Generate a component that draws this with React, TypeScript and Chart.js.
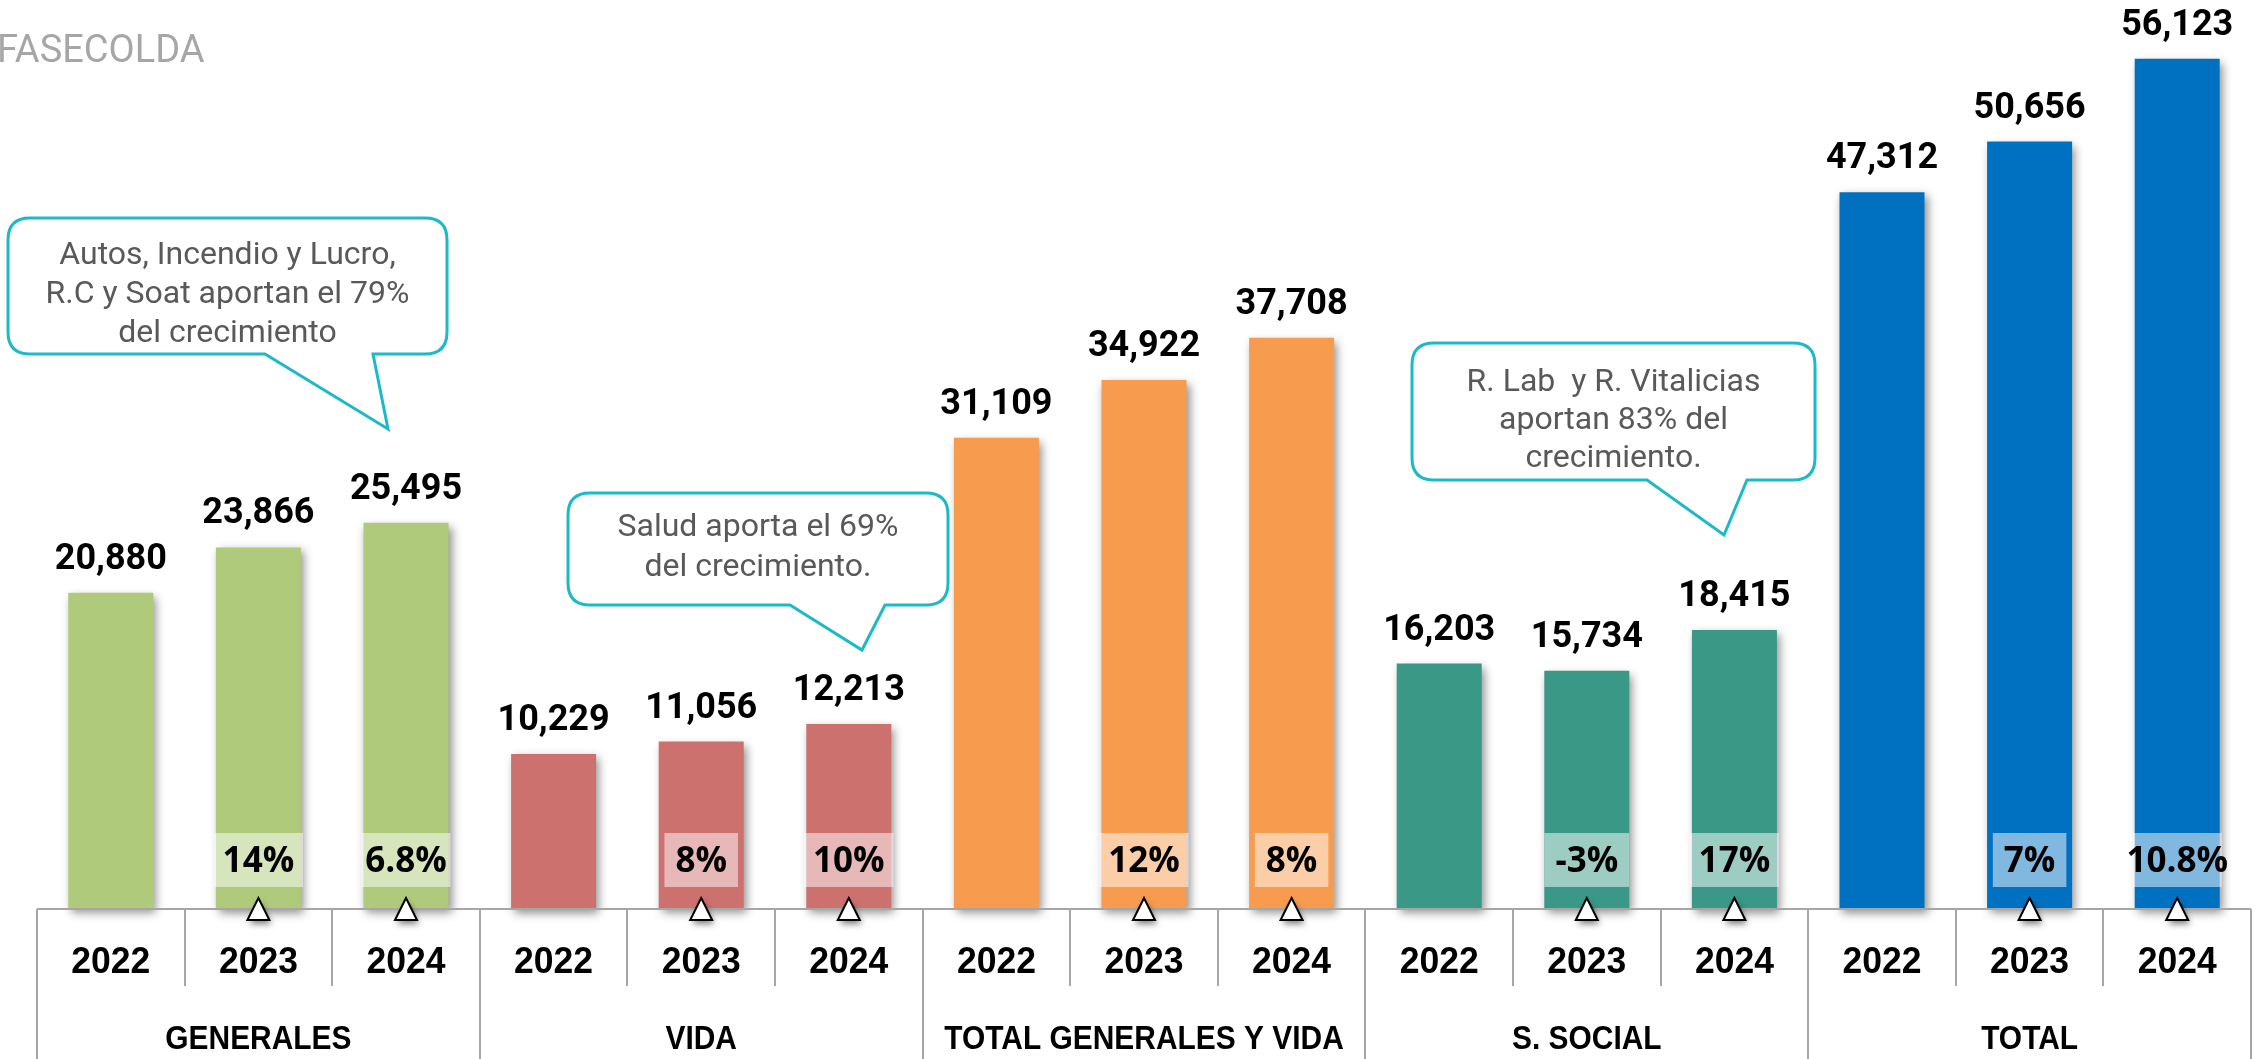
import React, { useEffect, useRef } from "react";
import { Chart, registerables } from "chart.js";

Chart.register(...registerables);

const groups = ["GENERALES", "VIDA", "TOTAL GENERALES Y VIDA", "S. SOCIAL", "TOTAL"];
const years = ["2022", "2023", "2024"];
const generales = [20880, 23866, 25495];
const vida = [10229, 11056, 12213];
const totalGenVida = [31109, 34922, 37708];
const sSocial = [16203, 15734, 18415];
const total = [47312, 50656, 56123];
const growthGenerales = ["", "14%", "6.8%"];
const growthVida = ["", "8%", "10%"];
const growthTotalGenVida = ["", "12%", "8%"];
const growthSSocial = ["", "-3%", "17%"];
const growthTotal = ["", "7%", "10.8%"];
const groupColors = ["#AFCA7B", "#CD716F", "#F79C4F", "#3A9887", "#0070C0"];
const callout1 = ["Autos, Incendio y Lucro,", "R.C y Soat aportan el 79%", "del crecimiento"];
const callout2 = ["Salud aporta el 69%", "del crecimiento."];
const callout3 = ["R. Lab  y R. Vitalicias", "aportan 83% del", "crecimiento."];
const sourceLabel = "FASECOLDA";

const seriesByGroup = [generales, vida, totalGenVida, sSocial, total];
const growthByGroup = [growthGenerales, growthVida, growthTotalGenVida, growthSSocial, growthTotal];

const labels: string[] = [];
const values: number[] = [];
const colors: string[] = [];
const growth: string[] = [];
seriesByGroup.forEach((s, g) => {
  s.forEach((v, i) => {
    labels.push(groups[g] + " " + years[i]);
    values.push(v);
    colors.push(groupColors[g]);
    growth.push(growthByGroup[g][i]);
  });
});

const W = 2263;
const H = 1059;

type CalloutSpec = {
  box: [number, number, number, number];
  tail: [number, number, number, number];
  lines: string[];
  firstLineY: number;
  lineGap: number;
};

const callouts: CalloutSpec[] = [
  { box: [8, 218, 439, 136], tail: [265, 373, 388, 429], lines: callout1, firstLineY: 256, lineGap: 39 },
  { box: [568, 493, 380, 112], tail: [790, 885, 862, 650], lines: callout2, firstLineY: 528, lineGap: 40 },
  { box: [1412, 343, 403, 137], tail: [1647, 1747, 1724, 535], lines: callout3, firstLineY: 383, lineGap: 38 },
];

function drawCallout(ctx: CanvasRenderingContext2D, c: CalloutSpec) {
  const [x, y, w, h] = c.box;
  const r = 22;
  const [t1, t2, tx, ty] = c.tail;
  ctx.save();
  ctx.beginPath();
  ctx.moveTo(x + r, y);
  ctx.lineTo(x + w - r, y);
  ctx.quadraticCurveTo(x + w, y, x + w, y + r);
  ctx.lineTo(x + w, y + h - r);
  ctx.quadraticCurveTo(x + w, y + h, x + w - r, y + h);
  ctx.lineTo(t2, y + h);
  ctx.lineTo(tx, ty);
  ctx.lineTo(t1, y + h);
  ctx.lineTo(x + r, y + h);
  ctx.quadraticCurveTo(x, y + h, x, y + h - r);
  ctx.lineTo(x, y + r);
  ctx.quadraticCurveTo(x, y, x + r, y);
  ctx.closePath();
  ctx.fillStyle = "#FFFFFF";
  ctx.fill();
  ctx.lineWidth = 3;
  ctx.strokeStyle = "#1CB9C9";
  ctx.lineJoin = "miter";
  ctx.stroke();
  ctx.fillStyle = "#595959";
  ctx.font = "32px Roboto";
  ctx.textAlign = "center";
  ctx.textBaseline = "middle";
  const cx = x + w / 2;
  c.lines.forEach((l, i) => ctx.fillText(l, cx, c.firstLineY + i * c.lineGap));
  ctx.restore();
}

function condensedText(ctx: CanvasRenderingContext2D, text: string, x: number, y: number, sx: number) {
  ctx.save();
  ctx.translate(x, y);
  ctx.scale(sx, 1);
  ctx.fillText(text, 0, 0);
  ctx.restore();
}

const overlayPlugin = {
  id: "overlay",
  beforeDatasetsDraw(chart: any) {
    const ctx = chart.ctx;
    ctx.save();
    ctx.shadowColor = "rgba(0,0,0,0.45)";
    ctx.shadowBlur = 9;
    ctx.shadowOffsetX = 3;
    ctx.shadowOffsetY = 4;
  },
  afterDatasetsDraw(chart: any) {
    const ctx: CanvasRenderingContext2D = chart.ctx;
    ctx.restore();
    const xs = chart.scales.x;
    const ys = chart.scales.y;
    const area = chart.chartArea;
    const axisY = ys.getPixelForValue(0);
    const n = labels.length;
    const band = (area.right - area.left) / n;

    // axis line and separators
    ctx.save();
    ctx.strokeStyle = "#A6A6A6";
    ctx.lineWidth = 2;
    ctx.beginPath();
    ctx.moveTo(area.left, axisY);
    ctx.lineTo(area.right, axisY);
    for (let i = 0; i <= n; i++) {
      const sx = Math.round(area.left + i * band);
      const isGroup = i % 3 === 0;
      ctx.moveTo(sx, axisY);
      ctx.lineTo(sx, isGroup ? H : axisY + 77);
    }
    ctx.stroke();
    ctx.restore();

    // year labels and group labels
    ctx.save();
    ctx.fillStyle = "#000000";
    ctx.textAlign = "center";
    ctx.textBaseline = "middle";
    ctx.font = "bold 37px 'Liberation Sans', Arial, sans-serif";
    for (let i = 0; i < n; i++) {
      condensedText(ctx, years[i % 3], xs.getPixelForValue(i), axisY + 54, 0.96);
    }
    ctx.font = "bold 34px 'Liberation Sans', Arial, sans-serif";
    groups.forEach((g, gi) => {
      const cx = xs.getPixelForValue(gi * 3 + 1);
      condensedText(ctx, g, cx, axisY + 131, 0.88);
    });
    ctx.restore();

    // growth boxes
    ctx.save();
    ctx.font = "bold 35px 'Open Sans'";
    ctx.textAlign = "center";
    ctx.textBaseline = "middle";
    for (let i = 0; i < n; i++) {
      if (!growth[i]) continue;
      const cx = xs.getPixelForValue(i);
      const tw = ctx.measureText(growth[i]).width;
      const bw = Math.min(tw + 22, 89);
      ctx.fillStyle = "rgba(255,255,255,0.5)";
      ctx.fillRect(cx - bw / 2, axisY - 76, bw, 54);
      ctx.fillStyle = "#000000";
      ctx.fillText(growth[i], cx, axisY - 47);
    }
    ctx.restore();

    // triangles
    ctx.save();
    ctx.shadowColor = "rgba(0,0,0,0.5)";
    ctx.shadowBlur = 6;
    ctx.shadowOffsetX = 2;
    ctx.shadowOffsetY = 4;
    for (let i = 0; i < n; i++) {
      if (!growth[i]) continue;
      const cx = xs.getPixelForValue(i);
      ctx.beginPath();
      ctx.moveTo(cx, axisY - 11);
      ctx.lineTo(cx + 11, axisY + 11);
      ctx.lineTo(cx - 11, axisY + 11);
      ctx.closePath();
      ctx.fillStyle = "#FFFFFF";
      ctx.fill();
    }
    ctx.shadowColor = "transparent";
    for (let i = 0; i < n; i++) {
      if (!growth[i]) continue;
      const cx = xs.getPixelForValue(i);
      ctx.beginPath();
      ctx.moveTo(cx, axisY - 11);
      ctx.lineTo(cx + 11, axisY + 11);
      ctx.lineTo(cx - 11, axisY + 11);
      ctx.closePath();
      ctx.fillStyle = "#FFFFFF";
      ctx.fill();
      ctx.lineWidth = 2;
      ctx.strokeStyle = "#000000";
      ctx.stroke();
    }
    ctx.restore();

    // value labels
    ctx.save();
    ctx.font = "bold 36px Roboto";
    ctx.fillStyle = "#000000";
    ctx.textAlign = "center";
    ctx.textBaseline = "alphabetic";
    for (let i = 0; i < n; i++) {
      const cx = xs.getPixelForValue(i);
      const top = ys.getPixelForValue(values[i]);
      ctx.fillText(values[i].toLocaleString("en-US"), cx, top - 24);
    }
    ctx.restore();

    // callouts
    callouts.forEach((c) => drawCallout(ctx, c));

    // source label
    ctx.save();
    ctx.font = "38px Roboto";
    ctx.fillStyle = "#A6A6A6";
    ctx.textAlign = "left";
    ctx.textBaseline = "alphabetic";
    ctx.fillText(sourceLabel, -3, 62);
    ctx.restore();
  },
};

export default function App() {
  const ref = useRef<HTMLCanvasElement | null>(null);
  useEffect(() => {
    if (!ref.current) return;
    const chart = new Chart(ref.current, {
      type: "bar",
      data: {
        labels,
        datasets: [
          {
            data: values,
            backgroundColor: colors,
            borderWidth: 0,
            barPercentage: 0.576,
            categoryPercentage: 1,
            clip: false as any,
          },
        ],
      },
      options: {
        responsive: false,
        maintainAspectRatio: false,
        devicePixelRatio: 1,
        animation: false,
        events: [],
        layout: { padding: { left: 37, right: 12, top: 0, bottom: 150 } },
        plugins: { legend: { display: false }, tooltip: { enabled: false } },
        scales: {
          x: { type: "category", display: false, offset: true, grid: { display: false } },
          y: { display: false, min: 0, max: 60000 },
        },
      },
      plugins: [overlayPlugin],
    });
    return () => chart.destroy();
  }, []);
  return (
    <div style={{ position: "fixed", left: 0, top: 0, width: W, height: H, background: "#FFFFFF" }}>
      <canvas ref={ref} width={W} height={H} style={{ width: W, height: H, display: "block" }} />
    </div>
  );
}
